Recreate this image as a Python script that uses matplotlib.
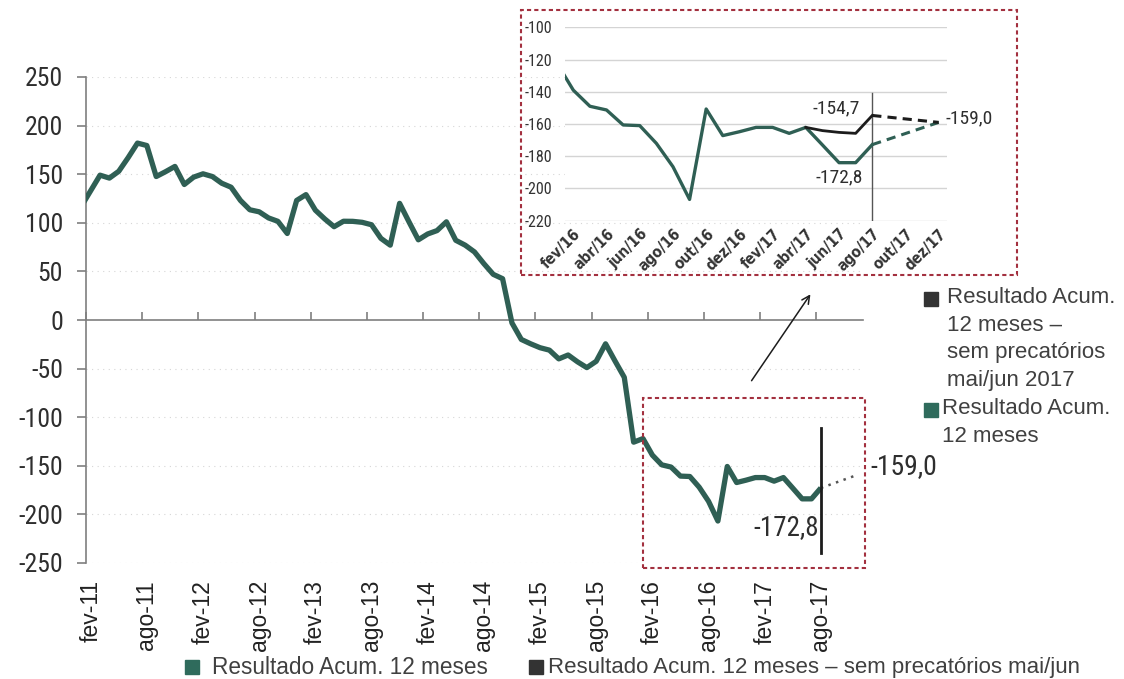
import matplotlib
matplotlib.use('Agg')
import matplotlib.pyplot as plt
from matplotlib import font_manager
from matplotlib.font_manager import FontProperties
from matplotlib.patches import Rectangle
from matplotlib.lines import Line2D
import numpy as np

W, H = 1124, 679

# pick a condensed face if one is installed, else plain Liberation Sans
narrow_file = None
for f in font_manager.fontManager.ttflist:
    nm = f.name
    if nm in ('Roboto Condensed', 'Liberation Sans Narrow') and f.weight in (400, 'normal', 'regular') and f.style == 'normal':
        narrow_file = f.fname
        break
if narrow_file is None:
    for f in font_manager.fontManager.ttflist:
        fn = f.fname.lower()
        if ('condensed' in fn or 'narrow' in fn) and 'bold' not in fn and 'oblique' not in fn \
                and 'italic' not in fn and 'light' not in fn and 'mono' not in fn and 'serif' not in fn:
            narrow_file = f.fname
            break
narrow_bold_file = None
for f in font_manager.fontManager.ttflist:
    fn = f.fname.lower()
    if ('condensed' in fn or 'narrow' in fn) and 'bold' in fn and 'oblique' not in fn \
            and 'italic' not in fn and 'mono' not in fn and 'serif' not in fn:
        narrow_bold_file = f.fname
        break

def NP(size, bold=False):
    if bold and narrow_bold_file:
        return FontProperties(fname=narrow_bold_file, size=size)
    if narrow_file and not bold:
        return FontProperties(fname=narrow_file, size=size)
    return FontProperties(family='Liberation Sans', size=size * 0.92,
                          weight='bold' if bold else 'normal')

SANS = 'Liberation Sans'

# ---------------- data ----------------
# monthly values jan-11 .. ago-17 (jan-11 only partly visible at the axis edge)
main_values = [
    117,                                                   # jan-11
    133, 149, 146, 153, 167, 182, 179.5, 147.6, 152.6, 158, 139.4,   # fev-11..dez-11
    147, 150.4, 147.6, 140.7, 136.6, 123, 113.4, 111.3, 105, 101.5, 89, 123,  # jan-12..dez-12
    129, 113, 104, 96, 101.6, 101.5, 100.5, 98, 84, 77, 120, 101,   # jan-13..dez-13
    82.5, 88.5, 92, 101, 82, 77, 70, 58, 47, 42.5, -3, -20,          # jan-14..dez-14
    -24.5, -28.5, -31, -40, -36, -43, -49, -42.5, -24.5, -42, -59, -125.7,  # jan-15..dez-15
    -122, -139, -149, -151.3, -160.6, -161, -172, -186.5, -206.8, -150.7, -167.2, -164.8,  # jan-16..dez-16
    -162.1, -162.1, -165.8, -162.1, -173, -184, -184, -172.8,        # jan-17..ago-17
]
main_xtick_labels = ['fev-11', 'ago-11', 'fev-12', 'ago-12', 'fev-13', 'ago-13', 'fev-14',
                     'ago-14', 'fev-15', 'ago-15', 'fev-16', 'ago-16', 'fev-17', 'ago-17']
main_yticks = [250, 200, 150, 100, 50, 0, -50, -100, -150, -200, -250]

inset_xtick_labels = ['fev/16', 'abr/16', 'jun/16', 'ago/16', 'out/16', 'dez/16',
                      'fev/17', 'abr/17', 'jun/17', 'ago/17', 'out/17', 'dez/17']
inset_yticks = [-100, -120, -140, -160, -180, -200, -220]

# "sem precatórios" series abr/17..ago/17
sem_prec_values = [-162.1, -164.1, -165.2, -165.8, -154.7]
projection_end = -159.0   # dez/17

legend_green = 'Resultado Acum. 12 meses'
legend_black = 'Resultado Acum. 12 meses – sem precatórios mai/jun'
legend_black_side = 'Resultado Acum.\n12 meses –\nsem precatórios\nmai/jun 2017'
legend_green_side = 'Resultado Acum.\n12 meses'

GREEN = '#2f5f54'
BLACK = '#1c1c1c'
GRAY = '#7f7f7f'
TXT = '#2e2e2e'
RED = '#a3303f'

def fmt(v):
    return f'{v:.1f}'.replace('.', ',')

# month index: fev-11 = 0
x_main = np.arange(-1, len(main_values) - 1)
last_x = x_main[-1]            # ago-17
proj_x = last_x + 4            # dez-17

fig = plt.figure(figsize=(W / 100, H / 100), dpi=100)
fig.patch.set_facecolor('white')

def fx(px):
    return px / W

def fy(py):
    return 1 - py / H

# ---------------- main axes ----------------
ax = fig.add_axes([fx(86), fy(563), 777 / W, 486 / H])
ax.set_xlim(-0.5, 82.5)
ax.set_ylim(-250, 250)
for s in ['top', 'right']:
    ax.spines[s].set_visible(False)
ax.spines['left'].set_color(GRAY)
ax.spines['left'].set_linewidth(1.2)
ax.spines['bottom'].set_position(('data', 0))
ax.spines['bottom'].set_color(GRAY)
ax.spines['bottom'].set_linewidth(1.2)

ax.set_yticks(main_yticks)
ax.set_yticklabels([str(v) for v in main_yticks], color=TXT)
for t in ax.get_yticklabels():
    t.set_fontproperties(NP(18.5))
ax.tick_params(axis='y', direction='out', length=6.5, color=GRAY, width=1.2, pad=10)

ax.set_xticks(np.arange(-0.5, 83, 6))
ax.tick_params(axis='x', direction='in', length=6, color=GRAY, width=1.2, labelbottom=False)

for yv in main_yticks:
    if yv != 0:
        ax.axhline(yv, color='#d6d6d6', lw=0.8, ls=(0, (1, 4)), zorder=0)

for i, lab in enumerate(main_xtick_labels):
    ax.text(i * 6, -0.035, lab, transform=ax.get_xaxis_transform(), rotation=90,
            ha='center', va='top', fontsize=16.5, family=SANS, color='#222222')

ax.plot(x_main, main_values, color=GREEN, lw=3.8, solid_capstyle='butt', zorder=3)
ax.plot([last_x, proj_x], [main_values[-1], projection_end], color='#555555', lw=1.8,
        ls=(0, (1, 2.2)), zorder=3)
ax.plot([last_x, last_x], [-111, -240], color=BLACK, lw=2, zorder=4)

ax.text(proj_x + 1.3, -150.7, fmt(projection_end), fontproperties=NP(20),
        color=TXT, ha='left', va='center')
ax.text(last_x - 0.2, -213.5, fmt(main_values[-1]), fontproperties=NP(19.5),
        color=TXT, ha='right', va='center')

# ---------------- inset ----------------
axi = fig.add_axes([fx(565), fy(220.7), 382 / W, 193.4 / H])
axi.set_xlim(-0.5, 22.5)
axi.set_ylim(-220, -100)
for s in axi.spines.values():
    s.set_visible(False)
for yv in inset_yticks:
    axi.axhline(yv, color='#d4d4d4', lw=1.0, zorder=0)
axi.set_yticks(inset_yticks)
axi.set_yticklabels([str(v) for v in inset_yticks], color='#333333')
for t in axi.get_yticklabels():
    t.set_fontproperties(NP(11.5))
axi.tick_params(axis='y', length=0, pad=9)
axi.set_xticks(np.arange(0, 23, 2))
axi.set_xticklabels(inset_xtick_labels, rotation=45, ha='right', va='top',
                    rotation_mode='anchor', color='#333333')
for t in axi.get_xticklabels():
    t.set_fontproperties(NP(11, bold=True))
axi.tick_params(axis='x', length=0, pad=4)

x_in = x_main - 60
ins_mask = x_in >= -1
axi.plot(x_in[ins_mask], np.array(main_values)[ins_mask], color=GREEN, lw=2.4, zorder=3)
x_sem = np.arange(14, 14 + len(sem_prec_values))
axi.plot(x_sem, sem_prec_values, color=BLACK, lw=2.0, zorder=4)
li = last_x - 60
axi.plot([li, li + 4], [main_values[-1], projection_end], color=GREEN, lw=2.2,
         ls=(0, (3, 2)), zorder=3)
axi.plot([li, li + 4], [sem_prec_values[-1], projection_end], color=BLACK, lw=2.2,
         ls=(0, (3, 2)), zorder=4)
axi.plot([li, li], [-141, -220], color='#555555', lw=1.0, zorder=2)

axi.text(17.25, -150.1, fmt(sem_prec_values[-1]), fontproperties=NP(14),
         color=TXT, ha='right', va='center')
axi.text(17.45, -193, fmt(main_values[-1]), fontproperties=NP(14),
         color=TXT, ha='right', va='center')
axi.text(22.4, -156.5, fmt(projection_end), fontproperties=NP(14),
         color=TXT, ha='left', va='center', clip_on=False)

# ---------------- boxes and arrow ----------------
def box(x0, y0, x1, y1):
    r = Rectangle((fx(x0), fy(y1)), (x1 - x0) / W, (y1 - y0) / H, transform=fig.transFigure,
                  fill=False, edgecolor=RED, lw=1.5, ls=(0, (2, 1.5)), zorder=10)
    fig.add_artist(r)

box(521, 10, 1017, 275)
box(643, 398, 865, 568)

ax.annotate('', xy=(fx(812), fy(292)), xycoords='figure fraction',
            xytext=(fx(750), fy(383)), textcoords='figure fraction',
            arrowprops=dict(arrowstyle='->', color=BLACK, lw=1.1, mutation_scale=14))

# ---------------- legends ----------------
def square(px, py, color, size=10):
    fig.add_artist(Line2D([fx(px)], [fy(py)], marker='s', markersize=size, color=color,
                          transform=fig.transFigure, linestyle='none'))

square(931, 299, '#333333')
fig.text(fx(947), fy(287), legend_black_side, fontsize=16, family=SANS, color='#404040',
         ha='left', va='top', linespacing=1.42)
square(931, 410, '#2f6b5c')
fig.text(fx(942), fy(398), legend_green_side, fontsize=16, family=SANS, color='#404040',
         ha='left', va='top', linespacing=1.42)

square(192, 667, '#2f6b5c')
fig.text(fx(212), fy(668), legend_green, fontsize=16.3, family=SANS, color='#404040',
         ha='left', va='center')
square(536, 667, '#333333')
fig.text(fx(548), fy(668), legend_black, fontsize=16.0, family=SANS, color='#404040',
         ha='left', va='center')

fig.savefig('out.png', dpi=100, facecolor='white')
